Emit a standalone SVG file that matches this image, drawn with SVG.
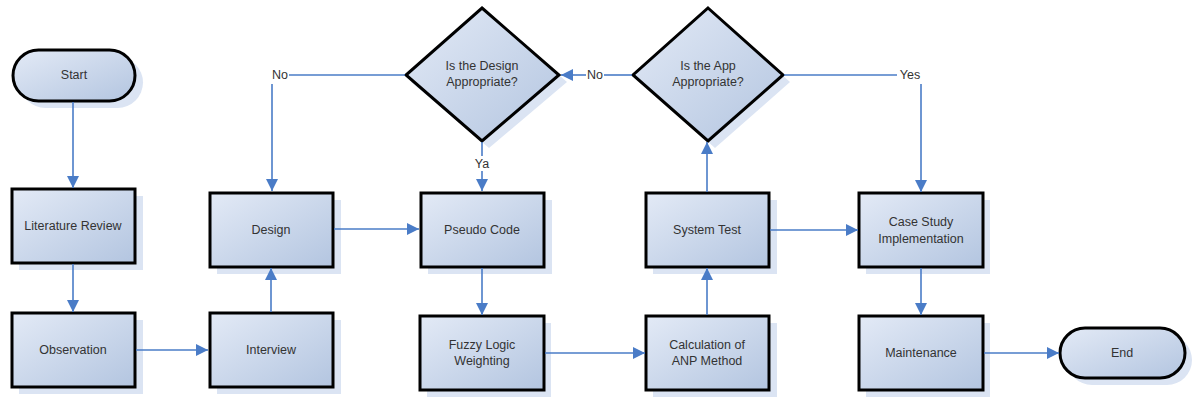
<svg xmlns="http://www.w3.org/2000/svg" width="1192" height="399" viewBox="0 0 1192 399">
<defs>
<linearGradient id="g" x1="0" y1="0" x2="1" y2="1">
<stop offset="0" stop-color="#e3eaf6"/>
<stop offset="1" stop-color="#b3c5e0"/>
</linearGradient>
<marker id="a" viewBox="0 0 10 10" refX="10" refY="5" markerWidth="12" markerHeight="12" markerUnits="userSpaceOnUse" orient="auto">
<path d="M0,0 L10,5 L0,10 z" fill="#4a7cc7"/>
</marker>
<style>
.s{fill:#dbe4f3;stroke:none}
.n{fill:url(#g);stroke:#000;stroke-width:3}
.t{font-family:"Liberation Sans",Arial,sans-serif;font-size:12.5px;fill:#333;text-anchor:middle}
.c{fill:none;stroke:#4a7cc7;stroke-width:1.6}
.l{font-family:"Liberation Sans",Arial,sans-serif;font-size:12.5px;fill:#333;text-anchor:middle}
</style>
</defs>
<rect width="1192" height="399" fill="#fff"/>
<g id="start">
<rect class="s" x="20" y="57" width="123" height="51" rx="25.5"/>
<rect class="n" x="13" y="50" width="122" height="51" rx="25.5"/>
<text class="t" x="74" y="79">Start</text>
</g>
<g id="literature-review">
<rect class="s" x="19" y="196" width="124" height="74"/>
<rect class="n" x="12" y="189" width="123" height="74"/>
<text class="t" x="73" y="230">Literature Review</text>
</g>
<g id="observation">
<rect class="s" x="19" y="320" width="124" height="74"/>
<rect class="n" x="12" y="313" width="123" height="74"/>
<text class="t" x="73" y="354">Observation</text>
</g>
<g id="design">
<rect class="s" x="217" y="200" width="124" height="74"/>
<rect class="n" x="210" y="193" width="123" height="74"/>
<text class="t" x="271" y="234">Design</text>
</g>
<g id="interview">
<rect class="s" x="217" y="320" width="124" height="74"/>
<rect class="n" x="210" y="313" width="123" height="74"/>
<text class="t" x="271" y="354">Interview</text>
</g>
<g id="pseudo-code">
<rect class="s" x="428" y="200" width="124" height="74"/>
<rect class="n" x="421" y="193" width="123" height="74"/>
<text class="t" x="482" y="234">Pseudo Code</text>
</g>
<g id="fuzzy-logic">
<rect class="s" x="427" y="323" width="124" height="74"/>
<rect class="n" x="420" y="316" width="124" height="74"/>
<text class="t" x="482" y="349">Fuzzy Logic</text>
<text class="t" x="482" y="365">Weighting</text>
</g>
<g id="calculation-anp">
<rect class="s" x="653" y="323" width="124" height="74"/>
<rect class="n" x="646" y="316" width="123" height="74"/>
<text class="t" x="707" y="349">Calculation of</text>
<text class="t" x="707" y="365">ANP Method</text>
</g>
<g id="system-test">
<rect class="s" x="653" y="200" width="124" height="74"/>
<rect class="n" x="646" y="193" width="123" height="74"/>
<text class="t" x="707" y="234">System Test</text>
</g>
<g id="case-study">
<rect class="s" x="866" y="200" width="124" height="74"/>
<rect class="n" x="859" y="193" width="124" height="74"/>
<text class="t" x="921" y="226">Case Study</text>
<text class="t" x="921" y="243">Implementation</text>
</g>
<g id="maintenance">
<rect class="s" x="866" y="323" width="124" height="74"/>
<rect class="n" x="859" y="316" width="124" height="74"/>
<text class="t" x="921" y="357">Maintenance</text>
</g>
<g id="end">
<rect class="s" x="1067" y="335" width="125" height="50" rx="25"/>
<rect class="n" x="1060" y="328" width="125" height="50" rx="25"/>
<text class="t" x="1122" y="357">End</text>
</g>
<g id="design-decision">
<polygon class="s" points="489,15 567,82 489,148 411,82"/>
<polygon class="n" points="482,8 559,75 482,141 406,75"/>
<text class="t" x="482" y="70">Is the Design</text>
<text class="t" x="482" y="86">Appropriate?</text>
</g>
<g id="app-decision">
<polygon class="s" points="715,15 790,82 715,148 640,82"/>
<polygon class="n" points="708,8 783,75 708,141 633,75"/>
<text class="t" x="708" y="70">Is the App</text>
<text class="t" x="708" y="86">Appropriate?</text>
</g>
<g id="connectors">
<line class="c" x1="73" y1="102" x2="73" y2="188" marker-end="url(#a)"/>
<line class="c" x1="73" y1="264" x2="73" y2="312" marker-end="url(#a)"/>
<line class="c" x1="136" y1="350" x2="208" y2="350" marker-end="url(#a)"/>
<line class="c" x1="271" y1="312" x2="271" y2="268" marker-end="url(#a)"/>
<line class="c" x1="334" y1="229" x2="419" y2="229" marker-end="url(#a)"/>
<line class="c" x1="482" y1="268" x2="482" y2="315" marker-end="url(#a)"/>
<line class="c" x1="545" y1="353" x2="645" y2="353" marker-end="url(#a)"/>
<line class="c" x1="707" y1="315" x2="707" y2="268" marker-end="url(#a)"/>
<line class="c" x1="707" y1="192" x2="707" y2="142" marker-end="url(#a)"/>
<polyline class="c" points="770,230 858,230" marker-end="url(#a)"/>
<line class="c" x1="921" y1="268" x2="921" y2="315" marker-end="url(#a)"/>
<line class="c" x1="984" y1="353" x2="1059" y2="353" marker-end="url(#a)"/>
<line class="c" x1="632" y1="75" x2="604" y2="75"/>
<line class="c" x1="586" y1="75" x2="561" y2="75" marker-end="url(#a)"/>
<line class="c" x1="405" y1="75" x2="289" y2="75"/>
<line class="c" x1="272" y1="84" x2="272" y2="191" marker-end="url(#a)"/>
<line class="c" x1="482" y1="142" x2="482" y2="156"/>
<line class="c" x1="482" y1="171" x2="482" y2="191" marker-end="url(#a)"/>
<line class="c" x1="784" y1="75" x2="897" y2="75"/>
<line class="c" x1="921" y1="84" x2="921" y2="192" marker-end="url(#a)"/>
<text class="l" x="280" y="79">No</text>
<text class="l" x="595" y="79">No</text>
<text class="l" x="482" y="168">Ya</text>
<text class="l" x="910" y="79">Yes</text>
</g>
</svg>
